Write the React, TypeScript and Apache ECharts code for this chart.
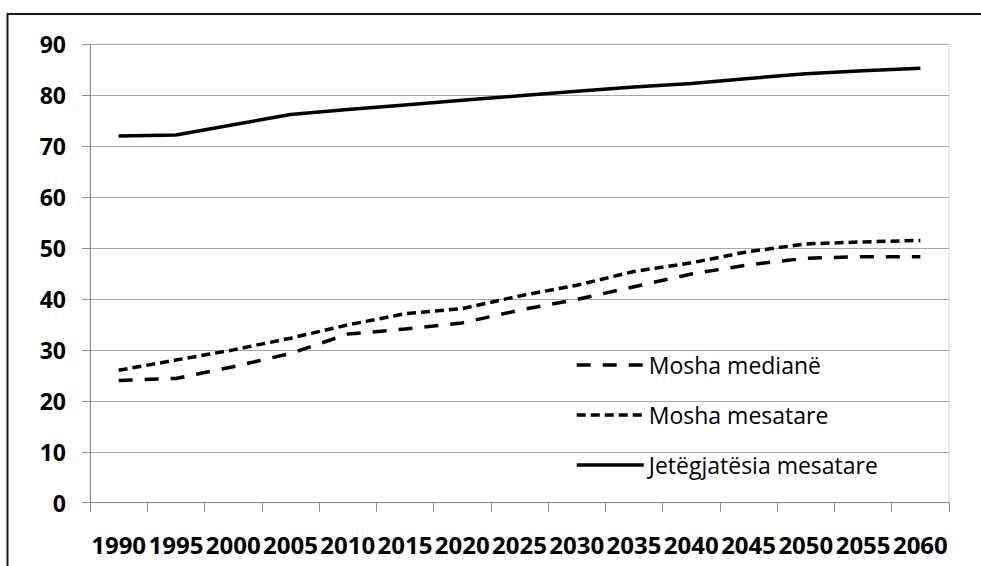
import React, { useEffect, useRef } from "react";
import * as echarts from "echarts";

const years = ["1990", "1995", "2000", "2005", "2010", "2015", "2020", "2025", "2030", "2035", "2040", "2045", "2050", "2055", "2060"];
const medianAge = [24, 24.4, 26.7, 29.3, 33.1, 34.1, 35.3, 37.8, 39.9, 42.4, 44.9, 46.7, 48.0, 48.3, 48.3];
const meanAge = [26, 28, 30, 32.3, 34.9, 37.1, 38.1, 40.6, 42.7, 45.4, 47.1, 49.3, 50.8, 51.2, 51.5];
const lifeExpectancy = [72, 72.2, 74.2, 76.2, 77.2, 78.1, 79.0, 79.9, 80.8, 81.6, 82.3, 83.3, 84.2, 84.8, 85.3];
const seriesNames = ["Mosha medianë", "Mosha mesatare", "Jetëgjatësia mesatare"];

export default function App() {
  const ref = useRef<HTMLDivElement>(null);
  useEffect(() => {
    document.body.style.margin = "0";
    const chart = echarts.init(ref.current!, null, { renderer: "svg" });
    const labelFont = { fontFamily: "Open Sans", fontWeight: "bold" as const, color: "#000" };
    chart.setOption({
      animation: false,
      backgroundColor: "#fff",
      grid: { left: 90, right: 32, top: 44.3, bottom: 63.3, show: true, borderColor: "#d0d0d0", borderWidth: 1 },
      graphic: [
        {
          type: "rect",
          shape: { x: 7.5, y: 14, width: 1000, height: 600 },
          style: { fill: "none", stroke: "#1a1a1a", lineWidth: 2 },
          silent: true,
        },
      ],
      legend: {
        orient: "vertical",
        left: 575,
        top: 353,
        padding: 0,
        itemWidth: 67,
        itemHeight: 24,
        itemGap: 26,
        data: seriesNames,
        itemStyle: { opacity: 0 },
        lineStyle: { width: 3.5 },
        textStyle: { fontFamily: "Open Sans", fontSize: 23, color: "#000", lineHeight: 24 },
      },
      xAxis: {
        type: "category",
        data: years,
        boundaryGap: true,
        axisLine: { lineStyle: { color: "#8c8c8c", width: 1 } },
        axisTick: { show: true, length: 9, interval: 0, lineStyle: { color: "#8c8c8c" } },
        axisLabel: { ...labelFont, fontSize: 24, interval: 0, margin: 30 },
        splitLine: { show: false },
      },
      yAxis: {
        type: "value",
        min: 0,
        max: 90,
        interval: 10,
        axisLine: { show: true, lineStyle: { color: "#8c8c8c", width: 1 } },
        axisTick: { show: true, length: 8, lineStyle: { color: "#8c8c8c" } },
        axisLabel: { ...labelFont, fontSize: 23, margin: 24 },
        splitLine: { show: true, lineStyle: { color: "#a6a6a6", width: 1 } },
      },
      series: [
        {
          name: seriesNames[0],
          type: "line",
          data: medianAge,
          symbol: "none",
          lineStyle: { color: "#000", width: 3.5, type: [14, 12] },
          itemStyle: { color: "#000" },
        },
        {
          name: seriesNames[1],
          type: "line",
          data: meanAge,
          symbol: "none",
          lineStyle: { color: "#000", width: 3.5, type: [9, 5] },
          itemStyle: { color: "#000" },
        },
        {
          name: seriesNames[2],
          type: "line",
          data: lifeExpectancy,
          symbol: "none",
          lineStyle: { color: "#000", width: 3.5, type: "solid" },
          itemStyle: { color: "#000" },
        },
      ],
    });
    return () => chart.dispose();
  }, []);
  return <div ref={ref} style={{ width: 981, height: 566 }} />;
}
